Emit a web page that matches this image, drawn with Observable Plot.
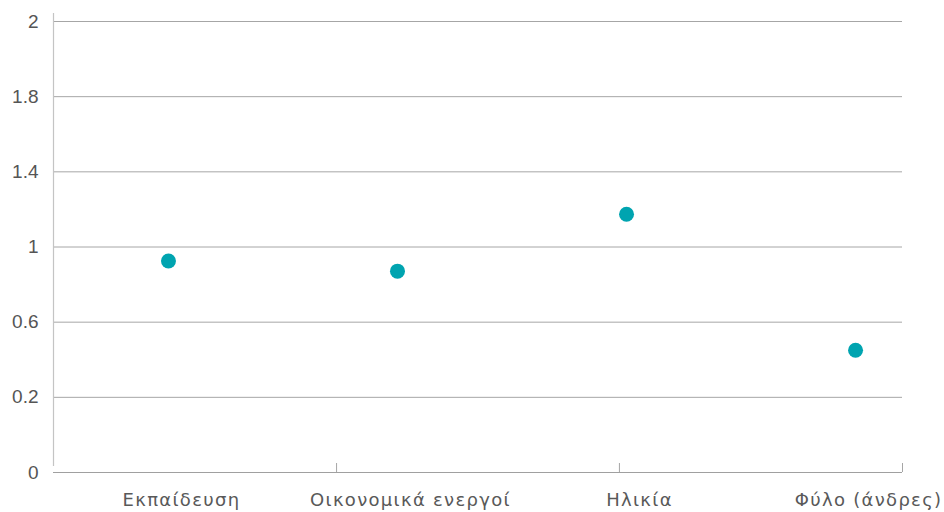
<!DOCTYPE html>
<html><head><meta charset="utf-8">
<script src="https://cdn.jsdelivr.net/npm/d3@7"></script>
<script src="https://cdn.jsdelivr.net/npm/@observablehq/plot@0.6"></script>
<style>body{margin:0;background:#fff}</style>
</head><body><div id="chart"></div>
<script>
const categories = ["Εκπαίδευση", "Οικονομικά ενεργοί", "Ηλικία", "Φύλο (άνδρες)"];
const values = [0.938, 0.893, 1.145, 0.542];
const yTickValues = [0, 0.3333, 0.6667, 1, 1.3333, 1.6667, 2];
const yTickLabels = ["0", "0.2", "0.6", "1", "1.4", "1.8", "2"];
const categoryBoundaries = [0.734, 1.969, 3.205];

const data = categories.map((c, i) => ({i, c, v: values[i]}));
const yTicks = yTickValues.map((v, i) => ({v, label: yTickLabels[i]}));

const chart = Plot.plot({
  width: 944, height: 512,
  marginLeft: 53, marginRight: 42, marginTop: 21, marginBottom: 40,
  x: {type: "linear", domain: [-0.502, 3.205], axis: null},
  y: {domain: [0, 2], axis: null},
  marks: [
    Plot.ruleY(yTickValues.slice(1), {stroke: "#a6a6a6", strokeWidth: 1, strokeOpacity: 1}),
    Plot.ruleX([-0.502], {stroke: "#c4c4c4", strokeWidth: 1.2, strokeOpacity: 1, insetTop: -8, insetBottom: 6}),
    Plot.ruleY([0], {stroke: "#a0a0a0", strokeWidth: 1, strokeOpacity: 1}),
    Plot.ruleX(categoryBoundaries, {stroke: "#a6a6a6", strokeWidth: 1, strokeOpacity: 1, insetTop: 442}),
    Plot.dot(data, {x: "i", y: "v", r: 7.5, fill: "#00a4b0", stroke: null}),
    Plot.text(yTicks, {y: "v", text: "label", frameAnchor: "left", textAnchor: "end", dx: -15,
      fontFamily: "Liberation Sans", fontSize: 19, fill: "#555555"}),
    Plot.text(data, {x: "i", text: "c", frameAnchor: "bottom", lineAnchor: "top", dy: 21, dx: 13,
      fontFamily: "DejaVu Sans", fontSize: 18, fill: "#595959"})
  ]
});
d3.select(chart).selectAll("text")
  .filter(function() { return categories.includes(this.textContent); })
  .attr("letter-spacing", "1.3")
  .style("letter-spacing", "1.3px");
document.getElementById("chart").appendChild(chart);
</script>
</body></html>
